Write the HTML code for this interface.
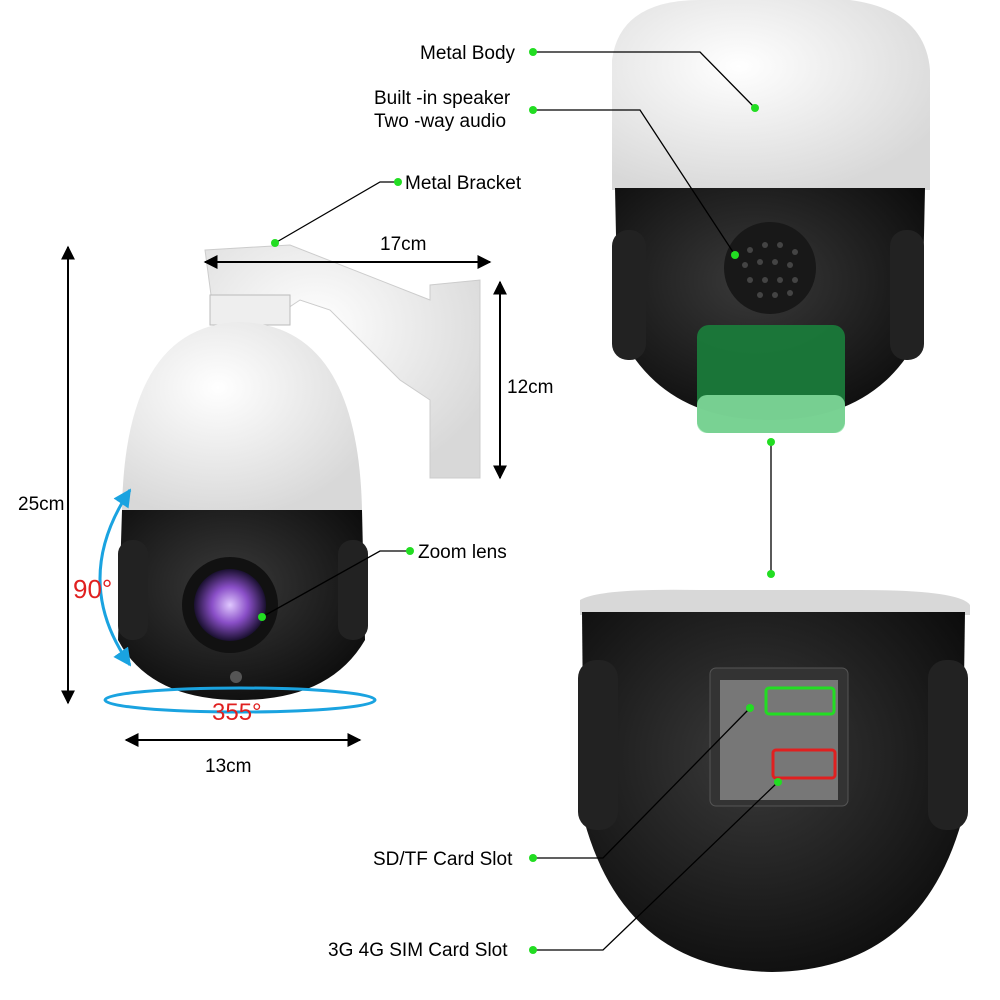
<!DOCTYPE html>
<html><head><meta charset="utf-8"><style>
html,body{margin:0;padding:0;background:#fff;width:1000px;height:1000px;overflow:hidden}
svg{display:block}
text{font-family:"Liberation Sans",sans-serif;font-size:19px;fill:#000}
</style></head><body>
<svg width="1000" height="1000" viewBox="0 0 1000 1000" xmlns="http://www.w3.org/2000/svg">
<defs>
<marker id="ah" viewBox="0 0 10 10" refX="9" refY="5" markerWidth="7" markerHeight="7" orient="auto-start-reverse"><path d="M0,0 L10,5 L0,10 z" fill="#000"/></marker>
<marker id="bh" viewBox="0 0 10 10" refX="9" refY="5" markerWidth="6" markerHeight="6" orient="auto-start-reverse"><path d="M0,0 L10,5 L0,10 z" fill="#1aa3e0"/></marker>
<radialGradient id="dome" cx="0.4" cy="0.35" r="0.7"><stop offset="0" stop-color="#ffffff"/><stop offset="1" stop-color="#d8d8d8"/></radialGradient>
<radialGradient id="blk" cx="0.45" cy="0.4" r="0.7"><stop offset="0" stop-color="#3a3a3a"/><stop offset="1" stop-color="#0a0a0a"/></radialGradient>
<radialGradient id="lens" cx="0.5" cy="0.5" r="0.5"><stop offset="0" stop-color="#e0c8ff"/><stop offset="0.5" stop-color="#8a4fc8"/><stop offset="1" stop-color="#1a1030"/></radialGradient>
</defs>

<!-- LEFT CAMERA -->
<path d="M205,250 L290,245 L430,300 L430,285 L480,280 L480,478 L430,478 L430,400 L400,380 L330,310 L300,300 L270,320 L215,325 Z" fill="url(#dome)" stroke="#ccc"/>
<rect x="210" y="295" width="80" height="30" fill="#eee" stroke="#bbb"/>
<path d="M122,510 Q125,325 240,322 Q358,325 362,510 Z" fill="url(#dome)"/>
<path d="M122,510 L362,510 L365,640 Q330,700 240,700 Q150,700 118,640 Z" fill="url(#blk)"/>
<rect x="118" y="540" width="30" height="100" rx="14" fill="#222"/>
<rect x="338" y="540" width="30" height="100" rx="14" fill="#222"/>
<circle cx="230" cy="605" r="48" fill="#111"/>
<circle cx="230" cy="605" r="36" fill="url(#lens)"/>
<circle cx="236" cy="677" r="6" fill="#555"/>

<!-- blue arcs -->
<path d="M130,490 Q70,580 130,665" fill="none" stroke="#1aa3e0" stroke-width="3" marker-start="url(#bh)" marker-end="url(#bh)"/>
<ellipse cx="240" cy="700" rx="135" ry="12" fill="none" stroke="#1aa3e0" stroke-width="3"/>
<text x="73" y="598" style="font-size:26px;fill:#e02020">90°</text>
<text x="212" y="720" style="font-size:24px;fill:#e02020">355°</text>

<!-- dimension arrows -->
<line x1="68" y1="247" x2="68" y2="703" stroke="#000" stroke-width="2" marker-start="url(#ah)" marker-end="url(#ah)"/>
<text x="18" y="510">25cm</text>
<line x1="205" y1="262" x2="490" y2="262" stroke="#000" stroke-width="2" marker-start="url(#ah)" marker-end="url(#ah)"/>
<text x="380" y="250">17cm</text>
<line x1="500" y1="282" x2="500" y2="478" stroke="#000" stroke-width="2" marker-start="url(#ah)" marker-end="url(#ah)"/>
<text x="507" y="393">12cm</text>
<line x1="126" y1="740" x2="360" y2="740" stroke="#000" stroke-width="2" marker-start="url(#ah)" marker-end="url(#ah)"/>
<text x="205" y="772">13cm</text>

<!-- left labels -->
<polyline points="275,243 380,182 398,182" fill="none" stroke="#000" stroke-width="1.3"/>
<circle cx="275" cy="243" r="4" fill="#22dd22"/><circle cx="398" cy="182" r="4" fill="#22dd22"/>
<text x="405" y="189">Metal Bracket</text>
<polyline points="262,617 380,551 410,551" fill="none" stroke="#000" stroke-width="1.3"/>
<circle cx="262" cy="617" r="4" fill="#22dd22"/><circle cx="410" cy="551" r="4" fill="#22dd22"/>
<text x="418" y="558">Zoom lens</text>

<!-- TOP RIGHT CAMERA -->
<path d="M612,190 L612,60 Q620,0 700,0 L850,0 Q925,10 930,70 L930,190 Z" fill="url(#dome)"/>
<path d="M615,188 L925,188 L922,330 Q880,420 770,420 Q660,420 618,330 Z" fill="url(#blk)"/>
<rect x="612" y="230" width="34" height="130" rx="16" fill="#222"/>
<rect x="890" y="230" width="34" height="130" rx="16" fill="#222"/>
<circle cx="770" cy="268" r="46" fill="#181818"/>
<g fill="#444">
<circle cx="750" cy="250" r="3"/><circle cx="765" cy="245" r="3"/><circle cx="780" cy="245" r="3"/><circle cx="795" cy="252" r="3"/>
<circle cx="745" cy="265" r="3"/><circle cx="760" cy="262" r="3"/><circle cx="775" cy="262" r="3"/><circle cx="790" cy="265" r="3"/>
<circle cx="750" cy="280" r="3"/><circle cx="765" cy="280" r="3"/><circle cx="780" cy="280" r="3"/><circle cx="795" cy="280" r="3"/>
<circle cx="760" cy="295" r="3"/><circle cx="775" cy="295" r="3"/><circle cx="790" cy="293" r="3"/>
</g>
<rect x="697" y="325" width="148" height="108" rx="12" fill="#1a7a3a" opacity="0.95"/>
<rect x="697" y="395" width="148" height="38" rx="10" fill="#8fe6a8" opacity="0.8"/>
<polyline points="533,52 700,52 755,108" fill="none" stroke="#000" stroke-width="1.3"/>
<circle cx="533" cy="52" r="4" fill="#22dd22"/><circle cx="755" cy="108" r="4" fill="#22dd22"/>
<text x="420" y="59">Metal Body</text>
<polyline points="533,110 640,110 735,255" fill="none" stroke="#000" stroke-width="1.3"/>
<circle cx="533" cy="110" r="4" fill="#22dd22"/><circle cx="735" cy="255" r="4" fill="#22dd22"/>
<text x="374" y="104">Built -in speaker</text>
<text x="374" y="127">Two -way audio</text>
<line x1="771" y1="442" x2="771" y2="574" stroke="#000" stroke-width="1.3"/>
<circle cx="771" cy="442" r="4" fill="#22dd22"/><circle cx="771" cy="574" r="4" fill="#22dd22"/>

<!-- BOTTOM RIGHT CAMERA -->
<path d="M580,600 Q600,588 700,590 L860,590 Q960,590 970,605 L970,615 L580,615 Z" fill="#d8d8d8"/>
<path d="M582,612 L965,612 L962,820 Q920,970 772,972 Q625,970 584,820 Z" fill="url(#blk)"/>
<rect x="578" y="660" width="40" height="170" rx="18" fill="#222"/>
<rect x="928" y="660" width="40" height="170" rx="18" fill="#222"/>
<rect x="710" y="668" width="138" height="138" rx="6" fill="#333" stroke="#555"/>
<rect x="720" y="680" width="118" height="120" fill="#777"/>
<rect x="766" y="688" width="68" height="26" rx="3" fill="none" stroke="#22dd22" stroke-width="3"/>
<rect x="773" y="750" width="62" height="28" rx="3" fill="none" stroke="#e02020" stroke-width="3"/>
<polyline points="533,858 603,858 750,708" fill="none" stroke="#000" stroke-width="1.3"/>
<circle cx="533" cy="858" r="4" fill="#22dd22"/><circle cx="750" cy="708" r="4" fill="#22dd22"/>
<text x="373" y="865">SD/TF Card Slot</text>
<polyline points="533,950 603,950 778,782" fill="none" stroke="#000" stroke-width="1.3"/>
<circle cx="533" cy="950" r="4" fill="#22dd22"/><circle cx="778" cy="782" r="4" fill="#22dd22"/>
<text x="328" y="956">3G 4G SIM Card Slot</text>
</svg>
</body></html>
